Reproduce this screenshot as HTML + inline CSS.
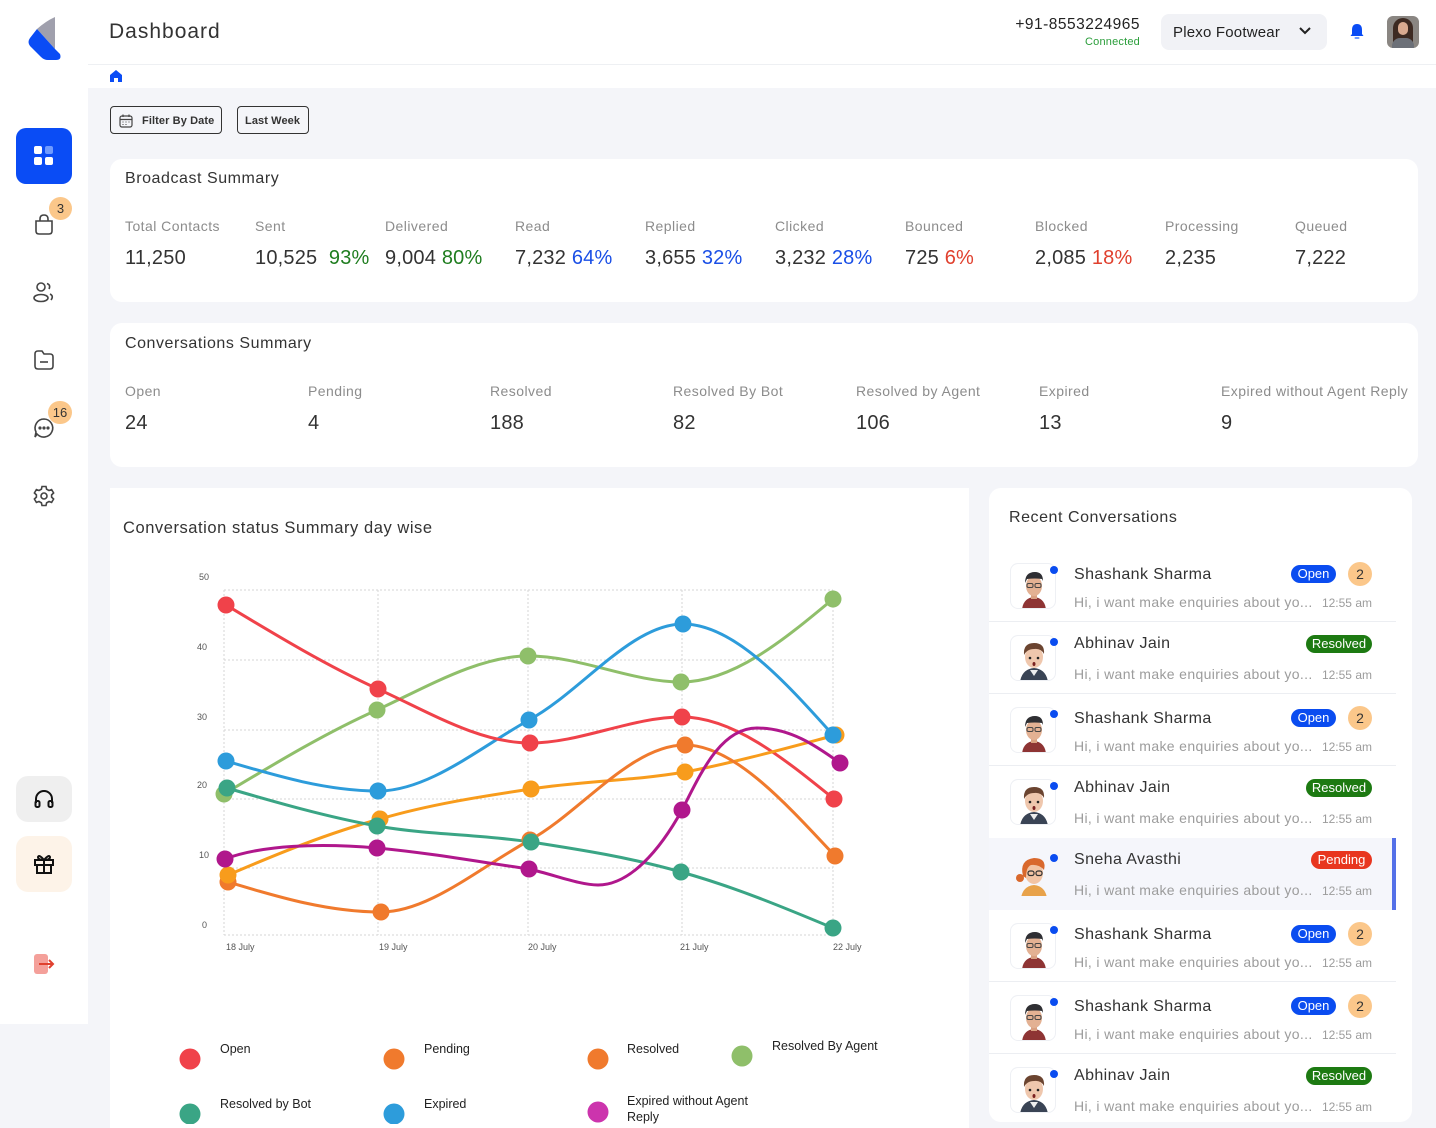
<!DOCTYPE html>
<html><head><meta charset="utf-8">
<style>
*{margin:0;padding:0;box-sizing:border-box}
body{width:1436px;height:1124px;overflow:hidden;background:#f4f5f9;font-family:"Liberation Sans",Arial,sans-serif;color:#333;position:relative}
.a{position:absolute;white-space:nowrap}
.card{position:absolute;background:#fff;border-radius:12px}
.ttl{position:absolute;font-size:16px;color:#333;letter-spacing:0.55px;white-space:nowrap}
.lbl{position:absolute;font-size:14px;color:#8c8c8c;white-space:nowrap;letter-spacing:0.45px}
.val{position:absolute;font-size:20px;color:#333;white-space:nowrap;letter-spacing:0.2px}
.g{color:#1f7d1f}.b{color:#1a4fe6}.r{color:#e0402e}
.name{position:absolute;left:1074px;font-size:16px;color:#333;white-space:nowrap;letter-spacing:0.4px}
.msg{position:absolute;left:1074px;font-size:14px;color:#9c9c9c;white-space:nowrap;letter-spacing:0.35px}
.tm{position:absolute;right:64px;font-size:12px;color:#9c9c9c;white-space:nowrap}
.bdg{position:absolute;height:18px;border-radius:9px;color:#fff;font-size:13px;line-height:18px;text-align:center}
.open{background:#0a4cf0;left:1291px;width:45px}
.res{background:#1d7a12;left:1306px;width:66px}
.pen{background:#e8361f;left:1311px;width:61px}
.cnt{position:absolute;left:1348px;width:24px;height:24px;border-radius:12px;background:#fbc78a;font-size:14px;line-height:24px;text-align:center;color:#333}
.av{position:absolute;left:1010px;width:46px;height:46px;border:1px solid #eef0f4;border-radius:8px;background:#fff;overflow:hidden}
.dot{position:absolute;left:1050px;width:8px;height:8px;border-radius:4px;background:#0a4cf0}
.sep{position:absolute;left:989px;width:407px;height:1px;background:#eceef2}
</style></head><body>

<!-- sidebar -->
<div class="a" style="left:0;top:0;width:88px;height:1024px;background:#fff"></div>
<svg class="a" style="left:26px;top:15px" width="40" height="48" viewBox="0 0 40 48">
  <path d="M29 2 L29 34 L11 14 Q20 6 29 2 Z" fill="#a0a0ad"/>
  <path d="M11 14 L29 34 L34 39 Q36 45 30 45 L22 45 Q18 45 15 42 L4 31 Q1 27 4 23 Z" fill="#0a4cf5"/>
</svg>
<div class="a" style="left:16px;top:128px;width:56px;height:56px;background:#0a4cf5;border-radius:10px"></div>
<div class="a" style="left:34px;top:146px;width:8px;height:8px;background:#fff;border-radius:2px"></div>
<div class="a" style="left:45px;top:146px;width:8px;height:8px;background:#6f9bff;border-radius:2px"></div>
<div class="a" style="left:34px;top:157px;width:8px;height:8px;background:#fff;border-radius:2px"></div>
<div class="a" style="left:45px;top:157px;width:8px;height:8px;background:#fff;border-radius:2px"></div>

<svg class="a" style="left:32px;top:212px" width="24" height="24" viewBox="0 0 24 24" fill="none" stroke="#444" stroke-width="1.6"><path d="M4 9 H20 V19 Q20 22 17 22 H7 Q4 22 4 19 Z"/><path d="M8 9 V7 Q8 3 12 3 Q16 3 16 7 V9"/></svg>
<div class="a" style="left:49px;top:197px;width:23px;height:23px;border-radius:12px;background:#fbc78a;font-size:13px;line-height:23px;text-align:center">3</div>
<svg class="a" style="left:32px;top:280px" width="24" height="24" viewBox="0 0 24 24" fill="none" stroke="#444" stroke-width="1.6"><circle cx="9" cy="7" r="4"/><ellipse cx="9" cy="18" rx="7" ry="3.5"/><path d="M15 3.5 Q19 5 17 9"/><path d="M18 14 Q22 16 19 20"/></svg>
<svg class="a" style="left:32px;top:348px" width="24" height="24" viewBox="0 0 24 24" fill="none" stroke="#444" stroke-width="1.6"><path d="M3 6 Q3 3 6 3 H10 L12 6 H18 Q21 6 21 9 V18 Q21 21 18 21 H6 Q3 21 3 18 Z"/><path d="M8 14 H16"/></svg>
<svg class="a" style="left:32px;top:416px" width="24" height="24" viewBox="0 0 24 24" fill="none" stroke="#444" stroke-width="1.6"><path d="M12 3 A9 9 0 1 1 5 18 L3 21 L4 16 A9 9 0 0 1 12 3 Z"/><circle cx="8" cy="12" r=".8" fill="#444"/><circle cx="12" cy="12" r=".8" fill="#444"/><circle cx="16" cy="12" r=".8" fill="#444"/></svg>
<div class="a" style="left:48px;top:401px;width:24px;height:23px;border-radius:12px;background:#fbc78a;font-size:13px;line-height:23px;text-align:center">16</div>
<svg class="a" style="left:32px;top:484px" width="24" height="24" viewBox="0 0 24 24" fill="none" stroke="#444" stroke-width="1.6"><circle cx="12" cy="12" r="3"/><path d="M10 2.5 H14 L14.6 5.2 L17 6.5 L19.6 5.6 L21.6 9 L19.6 10.9 V13.1 L21.6 15 L19.6 18.4 L17 17.5 L14.6 18.8 L14 21.5 H10 L9.4 18.8 L7 17.5 L4.4 18.4 L2.4 15 L4.4 13.1 V10.9 L2.4 9 L4.4 5.6 L7 6.5 L9.4 5.2 Z"/></svg>

<div class="a" style="left:16px;top:776px;width:56px;height:46px;background:#efefef;border-radius:12px"></div>
<svg class="a" style="left:33px;top:788px" width="22" height="22" viewBox="0 0 22 22" fill="none" stroke="#111" stroke-width="2"><path d="M3 15 V11 A8 8 0 0 1 19 11 V15"/><rect x="2.5" y="13" width="4" height="6" rx="1.5"/><rect x="15.5" y="13" width="4" height="6" rx="1.5"/></svg>
<div class="a" style="left:16px;top:836px;width:56px;height:56px;background:#fdf3e8;border-radius:12px"></div>
<svg class="a" style="left:33px;top:853px" width="22" height="22" viewBox="0 0 22 22" fill="none" stroke="#111" stroke-width="2"><rect x="2" y="7" width="18" height="5"/><rect x="4" y="12" width="14" height="8"/><path d="M11 7 V20"/><path d="M11 7 Q6 1 5 4 Q5 7 11 7 Q16 1 17 4 Q17 7 11 7"/></svg>
<div class="a" style="left:34px;top:954px;width:14px;height:20px;background:#f4a09a;border-radius:3px"></div>
<svg class="a" style="left:38px;top:958px" width="18" height="12" viewBox="0 0 18 12" fill="none" stroke="#e0402e" stroke-width="2"><path d="M1 6 H15"/><path d="M11 2 L15 6 L11 10"/></svg>

<!-- header -->
<div class="a" style="left:88px;top:0;width:1348px;height:88px;background:#fff"></div>
<div class="a" style="left:88px;top:64px;width:1348px;height:1px;background:#eef0f3"></div>
<div class="a" style="left:109px;top:20px;font-size:21px;color:#333;letter-spacing:1px">Dashboard</div>
<svg class="a" style="left:109px;top:69px" width="14" height="14" viewBox="0 0 14 14"><path d="M1 6 L7 1 L13 6 V13 H9 V9 H5 V13 H1 Z" fill="#0a4cf5"/></svg>
<div class="a" style="left:980px;top:16px;width:160px;text-align:right;font-size:15.5px;color:#222;letter-spacing:0.5px">+91-8553224965</div>
<div class="a" style="left:1000px;top:36px;width:140px;text-align:right;font-size:11px;color:#2a9d3a;letter-spacing:0.2px">Connected</div>
<div class="a" style="left:1161px;top:14px;width:166px;height:36px;background:#f1f2f6;border-radius:8px"></div>
<div class="a" style="left:1173px;top:24px;font-size:15px;color:#222;letter-spacing:0.2px">Plexo Footwear</div>
<svg class="a" style="left:1298px;top:26px" width="14" height="10" viewBox="0 0 14 10" fill="none" stroke="#222" stroke-width="2"><path d="M2 2 L7 7 L12 2"/></svg>
<svg class="a" style="left:1349px;top:23px" width="16" height="17" viewBox="0 0 16 17"><path d="M8 1 Q3 1 3 7 V11 L1.5 13 H14.5 L13 11 V7 Q13 1 8 1 Z" fill="#0a4cf5"/><rect x="5.5" y="14" width="5" height="2" rx="1" fill="#6f9bff"/></svg>
<div class="a" style="left:1387px;top:16px;width:32px;height:32px;border-radius:6px;background:#8a8682;overflow:hidden">
  <div class="a" style="left:6px;top:2px;width:20px;height:30px;border-radius:10px 10px 2px 2px;background:#3d2a22"></div>
  <div class="a" style="left:11px;top:6px;width:10px;height:13px;border-radius:5px;background:#d9aa90"></div>
  <div class="a" style="left:5px;top:22px;width:22px;height:12px;border-radius:8px 8px 0 0;background:#6c7078"></div>
</div>

<!-- filter buttons -->
<div class="a" style="left:110px;top:106px;width:112px;height:28px;border:1px solid #333;border-radius:4px"></div>
<svg class="a" style="left:119px;top:114px" width="14" height="14" viewBox="0 0 14 14" fill="none" stroke="#444" stroke-width="1.2"><rect x="1" y="2" width="12" height="11" rx="2"/><path d="M1 5.5 H13 M4 0.5 V3 M10 0.5 V3"/><path d="M3.5 8 H4.5 M6.5 8 H7.5 M9.5 8 H10.5 M3.5 10.5 H4.5 M6.5 10.5 H7.5" stroke-width="1"/></svg>
<div class="a" style="left:142px;top:115px;font-size:11px;font-weight:bold;color:#333;letter-spacing:0.1px">Filter By Date</div>
<div class="a" style="left:237px;top:106px;width:72px;height:28px;border:1px solid #333;border-radius:4px"></div>
<div class="a" style="left:245px;top:115px;font-size:11px;font-weight:bold;color:#333;letter-spacing:0.1px">Last Week</div>

<!-- broadcast summary -->
<div class="card" style="left:110px;top:159px;width:1308px;height:143px"></div>
<div class="ttl" style="left:125px;top:170px">Broadcast Summary</div>
<div class="lbl" style="left:125px;top:218px">Total Contacts</div><div class="val" style="left:125px;top:247px">11,250</div>
<div class="lbl" style="left:255px;top:218px">Sent</div><div class="val" style="left:255px;top:247px">10,525 <span class="g">&nbsp;93%</span></div>
<div class="lbl" style="left:385px;top:218px">Delivered</div><div class="val" style="left:385px;top:247px">9,004 <span class="g">80%</span></div>
<div class="lbl" style="left:515px;top:218px">Read</div><div class="val" style="left:515px;top:247px">7,232 <span class="b">64%</span></div>
<div class="lbl" style="left:645px;top:218px">Replied</div><div class="val" style="left:645px;top:247px">3,655 <span class="b">32%</span></div>
<div class="lbl" style="left:775px;top:218px">Clicked</div><div class="val" style="left:775px;top:247px">3,232 <span class="b">28%</span></div>
<div class="lbl" style="left:905px;top:218px">Bounced</div><div class="val" style="left:905px;top:247px">725 <span class="r">6%</span></div>
<div class="lbl" style="left:1035px;top:218px">Blocked</div><div class="val" style="left:1035px;top:247px">2,085 <span class="r">18%</span></div>
<div class="lbl" style="left:1165px;top:218px">Processing</div><div class="val" style="left:1165px;top:247px">2,235</div>
<div class="lbl" style="left:1295px;top:218px">Queued</div><div class="val" style="left:1295px;top:247px">7,222</div>

<!-- conversations summary -->
<div class="card" style="left:110px;top:323px;width:1308px;height:144px"></div>
<div class="ttl" style="left:125px;top:335px">Conversations Summary</div>
<div class="lbl" style="left:125px;top:383px">Open</div><div class="val" style="left:125px;top:412px">24</div>
<div class="lbl" style="left:308px;top:383px">Pending</div><div class="val" style="left:308px;top:412px">4</div>
<div class="lbl" style="left:490px;top:383px">Resolved</div><div class="val" style="left:490px;top:412px">188</div>
<div class="lbl" style="left:673px;top:383px">Resolved By Bot</div><div class="val" style="left:673px;top:412px">82</div>
<div class="lbl" style="left:856px;top:383px">Resolved by Agent</div><div class="val" style="left:856px;top:412px">106</div>
<div class="lbl" style="left:1039px;top:383px">Expired</div><div class="val" style="left:1039px;top:412px">13</div>
<div class="lbl" style="left:1221px;top:383px">Expired without Agent Reply</div><div class="val" style="left:1221px;top:412px">9</div>

<!-- chart card -->
<div class="a" style="left:110px;top:488px;width:859px;height:640px;background:#fff"></div>
<div class="ttl" style="left:123px;top:519px;font-size:16.5px">Conversation status Summary day wise</div>

<svg class="a" style="left:0;top:0" width="1436" height="1124" viewBox="0 0 1436 1124">
  <g stroke="#d6d6d6" stroke-width="1" stroke-dasharray="2,2" fill="none">
    <path d="M224 590 H833 M224 660 H833 M224 730 H833 M224 799 H833 M224 868 H833 M224 935 H833"/>
    <path d="M224 590 V935 M378 590 V935 M528 590 V935 M682 590 V935 M833 590 V935"/>
  </g>
  <g font-family="Liberation Sans, Arial, sans-serif" font-size="9" fill="#555">
    <text x="209" y="580" text-anchor="end">50</text>
    <text x="207" y="650" text-anchor="end">40</text>
    <text x="207" y="720" text-anchor="end">30</text>
    <text x="207" y="788" text-anchor="end">20</text>
    <text x="209" y="858" text-anchor="end">10</text>
    <text x="207" y="928" text-anchor="end">0</text>
    <text x="226" y="950">18 July</text>
    <text x="379" y="950">19 July</text>
    <text x="528" y="950">20 July</text>
    <text x="680" y="950">21 July</text>
    <text x="833" y="950">22 July</text>
  </g>
  <g fill="none" stroke-width="3" stroke-linecap="round">
    <path stroke="#8fbf6a" d="M224 794 C276.7 762.5 327.3 732 377 710 C428.7 686 479.3 656 528 656 C580.7 656 631.3 682 681 682 C732.7 682 783.3 640.5 833 599"/>
    <path stroke="#2d9cdb" d="M226 761 C276.7 776 327.3 791 378 791 C428.7 791 479.3 747.8 529 720 C580.7 692.2 631.3 624 683 624 C732.7 624 783.3 679.5 833 735"/>
    <path stroke="#f0424a" d="M226 605 C276.7 635.5 327.3 666 378 689 C428.7 712 479.3 743 530 743 C580.7 743 631.3 717 682 717 C732.7 717 783.3 758 834 799"/>
    <path stroke="#f89c1c" d="M228 875 C276.7 854.2 327.3 833.3 380 819 C428.7 804.7 479.3 796.8 531 789 C580.7 781.2 631.3 781 685 772 C732.7 763 783.3 749 836 735"/>
    <path stroke="#f07a2d" d="M228 882 C276.7 896.5 327.3 912 381 912 C428.7 912 479.3 867.8 530 840 C580.7 812.2 631.3 745 685 745 C732.7 745 783.3 800.5 835 856"/>
    <path stroke="#3aa585" d="M227 788 C276.7 802.5 327.3 817 377 826 C428.7 835 479.3 834.3 531 842 C580.7 849.7 631.3 857.7 681 872 C732.7 886.3 783.3 907.2 833 928"/>
    <path stroke="#b0178c" d="M225 859 C262 845 320 843 377 848 C430 853 480 862 529 869 C555 875 580 885 598 885 C630 885 660 850 682 810 C700 775 720 728 757 728 C790 728 815 745 840 763"/>
  </g>
  <g>
    <circle cx="226" cy="605" r="8.5" fill="#f0424a"/><circle cx="378" cy="689" r="8.5" fill="#f0424a"/><circle cx="530" cy="743" r="8.5" fill="#f0424a"/><circle cx="682" cy="717" r="8.5" fill="#f0424a"/><circle cx="834" cy="799" r="8.5" fill="#f0424a"/>
    <circle cx="224" cy="794" r="8.5" fill="#8fbf6a"/><circle cx="377" cy="710" r="8.5" fill="#8fbf6a"/><circle cx="528" cy="656" r="8.5" fill="#8fbf6a"/><circle cx="681" cy="682" r="8.5" fill="#8fbf6a"/><circle cx="833" cy="599" r="8.5" fill="#8fbf6a"/>
    <circle cx="836" cy="735" r="8.5" fill="#f89c1c"/>
    <circle cx="226" cy="761" r="8.5" fill="#2d9cdb"/><circle cx="378" cy="791" r="8.5" fill="#2d9cdb"/><circle cx="529" cy="720" r="8.5" fill="#2d9cdb"/><circle cx="683" cy="624" r="8.5" fill="#2d9cdb"/><circle cx="833" cy="735" r="8.5" fill="#2d9cdb"/>
    <circle cx="228" cy="882" r="8.5" fill="#f07a2d"/><circle cx="381" cy="912" r="8.5" fill="#f07a2d"/><circle cx="530" cy="840" r="8.5" fill="#f07a2d"/><circle cx="685" cy="745" r="8.5" fill="#f07a2d"/><circle cx="835" cy="856" r="8.5" fill="#f07a2d"/>
    <circle cx="228" cy="875" r="8.5" fill="#f89c1c"/><circle cx="380" cy="819" r="8.5" fill="#f89c1c"/><circle cx="531" cy="789" r="8.5" fill="#f89c1c"/><circle cx="685" cy="772" r="8.5" fill="#f89c1c"/>
    <circle cx="227" cy="788" r="8.5" fill="#3aa585"/><circle cx="377" cy="826" r="8.5" fill="#3aa585"/><circle cx="531" cy="842" r="8.5" fill="#3aa585"/><circle cx="681" cy="872" r="8.5" fill="#3aa585"/><circle cx="833" cy="928" r="8.5" fill="#3aa585"/>
    <circle cx="225" cy="859" r="8.5" fill="#b0178c"/><circle cx="377" cy="848" r="8.5" fill="#b0178c"/><circle cx="529" cy="869" r="8.5" fill="#b0178c"/><circle cx="682" cy="810" r="8.5" fill="#b0178c"/><circle cx="840" cy="763" r="8.5" fill="#b0178c"/>
  </g>
  <g>
    <circle cx="190" cy="1059" r="10.5" fill="#f0424a"/>
    <circle cx="394" cy="1059" r="10.5" fill="#f07a2d"/>
    <circle cx="598" cy="1059" r="10.5" fill="#f07a2d"/>
    <circle cx="742" cy="1056" r="10.5" fill="#8fbf6a"/>
    <circle cx="190" cy="1114" r="10.5" fill="#3aa585"/>
    <circle cx="394" cy="1114" r="10.5" fill="#2d9cdb"/>
    <circle cx="598" cy="1112" r="10.5" fill="#cc34ad"/>
  </g>
  <g font-family="Liberation Sans, Arial, sans-serif" font-size="12.5" fill="#222">
    <text x="220" y="1053">Open</text>
    <text x="424" y="1053">Pending</text>
    <text x="627" y="1053">Resolved</text>
    <text x="772" y="1050">Resolved By Agent</text>
    <text x="220" y="1108">Resolved by Bot</text>
    <text x="424" y="1108">Expired</text>
    <text x="627" y="1105">Expired without Agent</text>
    <text x="627" y="1121">Reply</text>
  </g>
</svg>

<!-- recent conversations -->
<div class="a" style="left:989px;top:488px;width:423px;height:634px;background:#fff;border-radius:12px"></div>
<div class="ttl" style="left:1009px;top:509px">Recent Conversations</div>

<div class="a" style="left:989px;top:838px;width:407px;height:72px;background:#f5f6fb"></div>
<div class="a" style="left:1392px;top:838px;width:4px;height:72px;background:#5470e8"></div>

<div class="sep" style="top:621px"></div>
<div class="sep" style="top:693px"></div>
<div class="sep" style="top:765px"></div>
<div class="sep" style="top:981px"></div>
<div class="sep" style="top:1053px"></div>

<!-- 1 Shashank -->
<div class="av" style="top:563px"><svg width="46" height="46" viewBox="0 0 46 46"><path d="M11 46 Q12 34 23 33 Q34 34 35 46 Z" fill="#8e3434"/><rect x="20" y="28" width="6" height="7" fill="#d9a081"/><ellipse cx="23" cy="22" rx="8" ry="10" fill="#e3b193"/><path d="M14 19 Q14 8 24 8 Q32 8 32 17 L31 15 Q24 14 16 15 Z" fill="#2f2f33"/><rect x="16" y="19.5" width="6" height="4" rx="1.5" fill="none" stroke="#444" stroke-width="1"/><rect x="24" y="19.5" width="6" height="4" rx="1.5" fill="none" stroke="#444" stroke-width="1"/></svg></div>
<div class="dot" style="top:566px"></div>
<div class="name" style="top:566px">Shashank Sharma</div>
<div class="bdg open" style="top:565px">Open</div><div class="cnt" style="top:562px">2</div>
<div class="msg" style="top:594px">Hi, i want make enquiries about yo...</div><div class="tm" style="top:596px">12:55 am</div>

<!-- 2 Abhinav -->
<div class="av" style="top:635px"><svg width="46" height="46" viewBox="0 0 46 46"><path d="M9 46 Q11 33 23 32 Q35 33 37 46 Z" fill="#3a4455"/><path d="M19 34 L23 40 L27 34 Z" fill="#eee"/><ellipse cx="23" cy="21" rx="9" ry="11" fill="#efc7ad"/><path d="M13 19 Q12 7 23 7 Q34 7 33 18 Q30 12 23 13 Q16 13 13 19 Z" fill="#6b4430"/><circle cx="19" cy="22" r="1.3" fill="#222"/><circle cx="27" cy="22" r="1.3" fill="#222"/><ellipse cx="23" cy="28" rx="1.5" ry="2" fill="#7a2020"/></svg></div>
<div class="dot" style="top:638px"></div>
<div class="name" style="top:635px">Abhinav Jain</div>
<div class="bdg res" style="top:635px">Resolved</div>
<div class="msg" style="top:666px">Hi, i want make enquiries about yo...</div><div class="tm" style="top:668px">12:55 am</div>

<!-- 3 Shashank -->
<div class="av" style="top:707px"><svg width="46" height="46" viewBox="0 0 46 46"><path d="M11 46 Q12 34 23 33 Q34 34 35 46 Z" fill="#8e3434"/><rect x="20" y="28" width="6" height="7" fill="#d9a081"/><ellipse cx="23" cy="22" rx="8" ry="10" fill="#e3b193"/><path d="M14 19 Q14 8 24 8 Q32 8 32 17 L31 15 Q24 14 16 15 Z" fill="#2f2f33"/><rect x="16" y="19.5" width="6" height="4" rx="1.5" fill="none" stroke="#444" stroke-width="1"/><rect x="24" y="19.5" width="6" height="4" rx="1.5" fill="none" stroke="#444" stroke-width="1"/></svg></div>
<div class="dot" style="top:710px"></div>
<div class="name" style="top:710px">Shashank Sharma</div>
<div class="bdg open" style="top:709px">Open</div><div class="cnt" style="top:706px">2</div>
<div class="msg" style="top:738px">Hi, i want make enquiries about yo...</div><div class="tm" style="top:740px">12:55 am</div>

<!-- 4 Abhinav -->
<div class="av" style="top:779px"><svg width="46" height="46" viewBox="0 0 46 46"><path d="M9 46 Q11 33 23 32 Q35 33 37 46 Z" fill="#3a4455"/><path d="M19 34 L23 40 L27 34 Z" fill="#eee"/><ellipse cx="23" cy="21" rx="9" ry="11" fill="#efc7ad"/><path d="M13 19 Q12 7 23 7 Q34 7 33 18 Q30 12 23 13 Q16 13 13 19 Z" fill="#6b4430"/><circle cx="19" cy="22" r="1.3" fill="#222"/><circle cx="27" cy="22" r="1.3" fill="#222"/><ellipse cx="23" cy="28" rx="1.5" ry="2" fill="#7a2020"/></svg></div>
<div class="dot" style="top:782px"></div>
<div class="name" style="top:779px">Abhinav Jain</div>
<div class="bdg res" style="top:779px">Resolved</div>
<div class="msg" style="top:810px">Hi, i want make enquiries about yo...</div><div class="tm" style="top:812px">12:55 am</div>

<!-- 5 Sneha -->
<div class="av" style="top:851px;background:#f5f6fb;border-color:#f5f6fb"><svg width="46" height="46" viewBox="0 0 46 46"><path d="M10 46 Q12 34 23 33 Q34 34 36 46 Z" fill="#e8a24a"/><ellipse cx="23" cy="21" rx="9" ry="11" fill="#f2c4a4"/><path d="M12 24 Q8 8 23 6 Q36 6 33 18 Q28 12 20 13 Q15 15 15 26 Z" fill="#d9682c"/><circle cx="9" cy="26" r="4" fill="#d9682c"/><rect x="17" y="19" width="6" height="4.5" rx="2" fill="none" stroke="#333" stroke-width="1.2"/><rect x="25" y="19" width="6" height="4.5" rx="2" fill="none" stroke="#333" stroke-width="1.2"/></svg></div>
<div class="dot" style="top:854px"></div>
<div class="name" style="top:851px">Sneha Avasthi</div>
<div class="bdg pen" style="top:851px">Pending</div>
<div class="msg" style="top:882px">Hi, i want make enquiries about yo...</div><div class="tm" style="top:884px">12:55 am</div>

<!-- 6 Shashank -->
<div class="av" style="top:923px"><svg width="46" height="46" viewBox="0 0 46 46"><path d="M11 46 Q12 34 23 33 Q34 34 35 46 Z" fill="#8e3434"/><rect x="20" y="28" width="6" height="7" fill="#d9a081"/><ellipse cx="23" cy="22" rx="8" ry="10" fill="#e3b193"/><path d="M14 19 Q14 8 24 8 Q32 8 32 17 L31 15 Q24 14 16 15 Z" fill="#2f2f33"/><rect x="16" y="19.5" width="6" height="4" rx="1.5" fill="none" stroke="#444" stroke-width="1"/><rect x="24" y="19.5" width="6" height="4" rx="1.5" fill="none" stroke="#444" stroke-width="1"/></svg></div>
<div class="dot" style="top:926px"></div>
<div class="name" style="top:926px">Shashank Sharma</div>
<div class="bdg open" style="top:925px">Open</div><div class="cnt" style="top:922px">2</div>
<div class="msg" style="top:954px">Hi, i want make enquiries about yo...</div><div class="tm" style="top:956px">12:55 am</div>

<!-- 7 Shashank -->
<div class="av" style="top:995px"><svg width="46" height="46" viewBox="0 0 46 46"><path d="M11 46 Q12 34 23 33 Q34 34 35 46 Z" fill="#8e3434"/><rect x="20" y="28" width="6" height="7" fill="#d9a081"/><ellipse cx="23" cy="22" rx="8" ry="10" fill="#e3b193"/><path d="M14 19 Q14 8 24 8 Q32 8 32 17 L31 15 Q24 14 16 15 Z" fill="#2f2f33"/><rect x="16" y="19.5" width="6" height="4" rx="1.5" fill="none" stroke="#444" stroke-width="1"/><rect x="24" y="19.5" width="6" height="4" rx="1.5" fill="none" stroke="#444" stroke-width="1"/></svg></div>
<div class="dot" style="top:998px"></div>
<div class="name" style="top:998px">Shashank Sharma</div>
<div class="bdg open" style="top:997px">Open</div><div class="cnt" style="top:994px">2</div>
<div class="msg" style="top:1026px">Hi, i want make enquiries about yo...</div><div class="tm" style="top:1028px">12:55 am</div>

<!-- 8 Abhinav -->
<div class="av" style="top:1067px"><svg width="46" height="46" viewBox="0 0 46 46"><path d="M9 46 Q11 33 23 32 Q35 33 37 46 Z" fill="#3a4455"/><path d="M19 34 L23 40 L27 34 Z" fill="#eee"/><ellipse cx="23" cy="21" rx="9" ry="11" fill="#efc7ad"/><path d="M13 19 Q12 7 23 7 Q34 7 33 18 Q30 12 23 13 Q16 13 13 19 Z" fill="#6b4430"/><circle cx="19" cy="22" r="1.3" fill="#222"/><circle cx="27" cy="22" r="1.3" fill="#222"/><ellipse cx="23" cy="28" rx="1.5" ry="2" fill="#7a2020"/></svg></div>
<div class="dot" style="top:1070px"></div>
<div class="name" style="top:1067px">Abhinav Jain</div>
<div class="bdg res" style="top:1067px">Resolved</div>
<div class="msg" style="top:1098px">Hi, i want make enquiries about yo...</div><div class="tm" style="top:1100px">12:55 am</div>

</body></html>
